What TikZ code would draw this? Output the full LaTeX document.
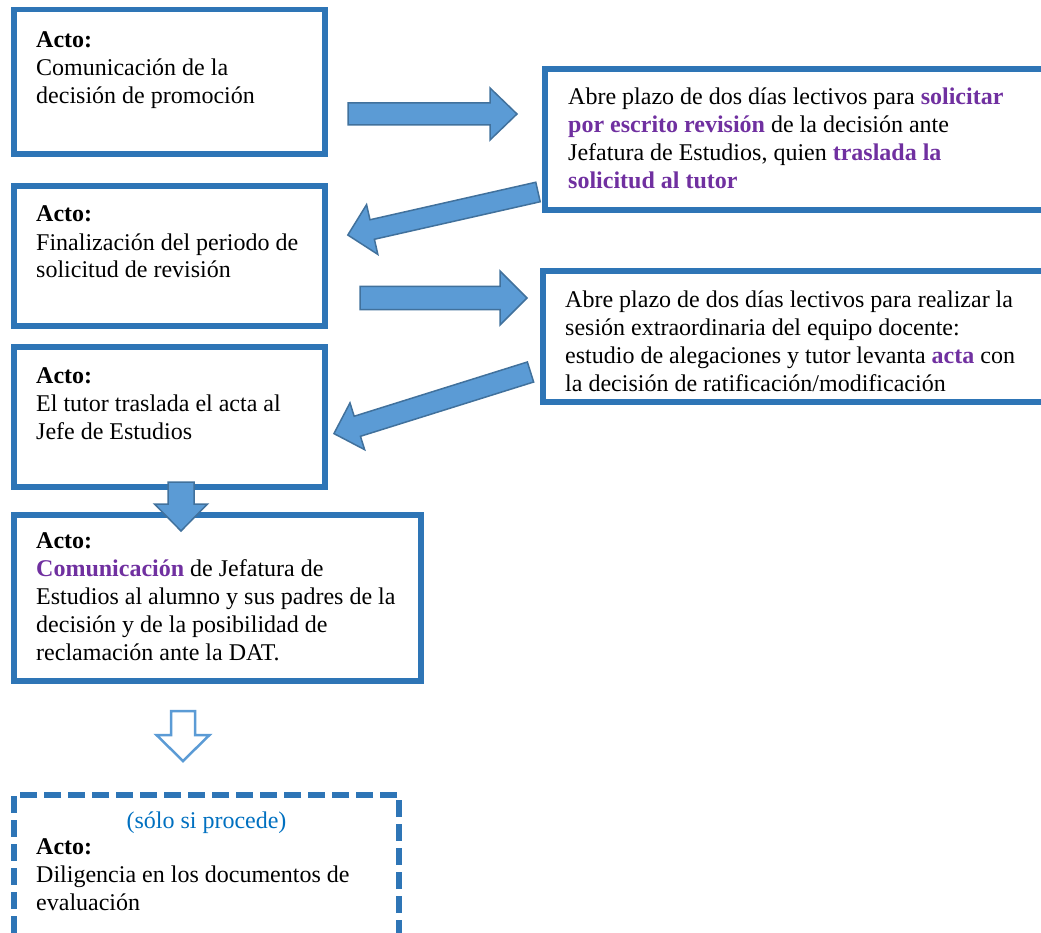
\documentclass[tikz,border=0pt]{standalone}
\usepackage{fontspec}
\setmainfont{Liberation Serif}
\definecolor{boxblue}{RGB}{46,117,182}
\definecolor{arrfill}{RGB}{91,155,213}
\definecolor{arredge}{RGB}{65,113,156}
\definecolor{purp}{RGB}{112,48,160}
\definecolor{lblue}{RGB}{0,112,192}
\newcommand\pb[1]{\textcolor{purp}{\textbf{#1}}}
\newcommand\blockarr[8]{%
\begin{scope}[shift={(#1,#2)},rotate=#3]
\draw[#8] (0,#5) -- ({#4-#7},#5) -- ({#4-#7},#6) -- (#4,0) -- ({#4-#7},-#6) -- ({#4-#7},-#5) -- (0,-#5) -- cycle;
\end{scope}}
\begin{document}
\begin{tikzpicture}[x=1pt,y=-1pt,
  boxst/.style={draw=boxblue,line width=5.5pt,rectangle,inner sep=0pt},
  txt/.style={anchor=base west,align=left,inner sep=0pt,font=\fontsize{24}{28}\selectfont},
  solidarr/.style={fill=arrfill,draw=arredge,line width=1.5pt,line join=miter},
  openarr/.style={fill=white,draw=arrfill,line width=2.5pt,line join=miter}]
\useasboundingbox (0,0) rectangle (1041,933);
% boxes
\node[boxst,minimum width=311pt,minimum height=144.5pt] (b1) at (169.5,81.75) {};
\node[boxst,minimum width=515pt,minimum height=141pt] (b2) at (802.5,139.5) {};
\node[boxst,minimum width=311pt,minimum height=140pt] (b3) at (169.5,256) {};
\node[boxst,minimum width=517pt,minimum height=131pt] (b4) at (801.5,336.5) {};
\node[boxst,minimum width=311pt,minimum height=140pt] (b5) at (169.5,417) {};
\node[boxst,minimum width=407pt,minimum height=166pt] (b6) at (217.5,598) {};
\node[boxst,dash pattern=on 17pt off 7pt,minimum width=385pt,minimum height=165pt] (b7) at (206.5,877.5) {};
% texts (base anchor = last line's baseline)
\node[txt] (t1) at (36,103.5) {\textbf{Acto:}\\Comunicación de la\\decisión de promoción};
\node[txt] (t2) at (568,189) {Abre plazo de dos días lectivos para \pb{solicitar}\\\pb{por escrito revisión} de la decisión ante\\Jefatura de Estudios, quien \pb{traslada la}\\\pb{solicitud al tutor}};
\node[txt] (t3) at (36,278) {\textbf{Acto:}\\Finalización del periodo de\\solicitud de revisión};
\node[txt] (t4) at (565,391) {Abre plazo de dos días lectivos para realizar la\\sesión extraordinaria del equipo docente:\\estudio de alegaciones y tutor levanta \pb{acta} con\\la decisión de ratificación/modificación};
\node[txt] (t5) at (36,439) {\textbf{Acto:}\\El tutor traslada el acta al\\Jefe de Estudios};
\node[txt] (t6) at (36,660.5) {\textbf{Acto:}\\\pb{Comunicación} de Jefatura de\\Estudios al alumno y sus padres de la\\decisión y de la posibilidad de\\reclamación ante la DAT.};
\node[txt,anchor=base,text=lblue] (t7a) at (206.5,828) {(sólo si procede)};
\node[txt] (t7) at (36,910) {\textbf{Acto:}\\Diligencia en los documentos de\\evaluación};
% arrows
\blockarr{348}{114}{0}{169}{11}{26}{27}{solidarr}
\blockarr{538}{192}{192.75}{195}{10}{25.5}{25}{solidarr}
\blockarr{360}{298}{0}{167}{11.5}{27}{27}{solidarr}
\blockarr{530.5}{372}{197.4}{206}{10.5}{24.5}{24.5}{solidarr}
\blockarr{181}{482}{-90}{49}{13}{26.5}{27}{solidarr}
\blockarr{183}{711}{-90}{50}{12}{26.5}{26}{openarr}
\end{tikzpicture}
\end{document}
